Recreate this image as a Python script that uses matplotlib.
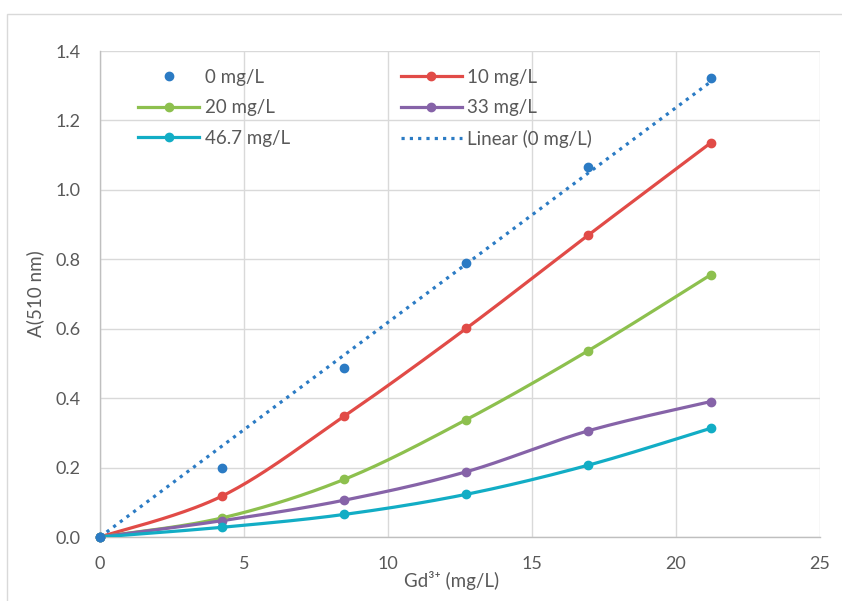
import numpy as np
import matplotlib
matplotlib.use("Agg")
import matplotlib.pyplot as plt
from matplotlib.patches import Rectangle

plt.rcParams['font.family'] = ['Lato', 'DejaVu Sans']

x = [0, 4.24, 8.48, 12.72, 16.96, 21.2]
y0 = [0.0, 0.199, 0.487, 0.790, 1.066, 1.323]
y10 = [0.0, 0.118, 0.348, 0.601, 0.870, 1.135]
y20 = [0.0, 0.055, 0.166, 0.338, 0.537, 0.755]
y33 = [0.0, 0.047, 0.106, 0.188, 0.306, 0.390]
y467 = [0.0, 0.028, 0.065, 0.123, 0.207, 0.313]
labels = ['0 mg/L', '10 mg/L', '20 mg/L', '33 mg/L', '46.7 mg/L', 'Linear (0 mg/L)']
colors = ['#2B7BC4', '#E14B47', '#8DC04E', '#8663A8', '#12ADC5']
xticks = [0, 5, 10, 15, 20, 25]
yticks = [0.0, 0.2, 0.4, 0.6, 0.8, 1.0, 1.2, 1.4]


def smooth(xs, ys, n=40):
    xs = np.asarray(xs, float); ys = np.asarray(ys, float)
    P = np.column_stack([xs, ys])
    out = [P[0]]
    for i in range(len(P) - 1):
        p0 = P[i - 1] if i > 0 else P[i]
        p1 = P[i]; p2 = P[i + 1]
        p3 = P[i + 2] if i + 2 < len(P) else P[i + 1]
        c1 = p1 + (p2 - p0) / 6.0
        c2 = p2 - (p3 - p1) / 6.0
        t = np.linspace(0, 1, n)[1:, None]
        seg = (1 - t) ** 3 * p1 + 3 * (1 - t) ** 2 * t * c1 + 3 * (1 - t) * t ** 2 * c2 + t ** 3 * p2
        out.extend(seg)
    out = np.array(out)
    return out[:, 0], out[:, 1]


fig = plt.figure(figsize=(8.42, 6.01), dpi=100)
fig.patches.append(Rectangle((7 / 842, -0.1), 2.0, 1 - 14 / 601 + 0.1, transform=fig.transFigure,
                             fill=False, edgecolor='#d9d9d9', linewidth=1.0))
ax = fig.add_axes([100 / 842, 1 - 537 / 601, 720 / 842, 486 / 601])

series = [y10, y20, y33, y467]
handles = {}
h0 = ax.plot(x, y0, 'o', color=colors[0], markersize=6, linestyle='none', zorder=5, clip_on=False)[0]
handles['0 mg/L'] = h0
for lab, ys, c in zip(labels[1:5], series, colors[1:5]):
    sx, sy = smooth(x, ys)
    ax.plot(sx, sy, '-', color=c, linewidth=2.3, zorder=3, solid_capstyle='round')
    ax.plot(x, ys, 'o', color=c, markersize=6, linestyle='none', zorder=4, clip_on=False)
    handles[lab] = ax.plot([], [], '-o', color=c, linewidth=2.3, markersize=6)[0]

xa = np.asarray(x); ya = np.asarray(y0)
slope = np.sum(xa * ya) / np.sum(xa * xa)
ax.plot([x[0], x[-1]], [slope * x[0], slope * x[-1]], linestyle=(0, (1, 1.6)), color=colors[0],
        linewidth=2.3, zorder=3)
handles['Linear (0 mg/L)'] = ax.plot([], [], linestyle=(0, (1, 1.6)), color=colors[0], linewidth=2.3)[0]

ax.set_xlim(0, 25)
ax.set_ylim(0, 1.4)
ax.set_xticks(xticks)
ax.set_yticks(yticks)
ax.set_yticklabels([f'{v:.1f}' for v in yticks])
ax.grid(True, color='#d9d9d9', linewidth=1.0)
ax.set_axisbelow(True)
for s in ['top', 'right']:
    ax.spines[s].set_visible(False)
for s in ['left', 'bottom']:
    ax.spines[s].set_color('#bfbfbf')
    ax.spines[s].set_linewidth(1.0)
ax.tick_params(length=0, labelsize=13, labelcolor='#595959')
ax.tick_params(axis='x', pad=14)
ax.tick_params(axis='y', pad=14)
ax.set_xlabel('Gd³⁺ (mg/L)', fontsize=13.5, color='#595959')
ax.set_ylabel('A(510 nm)', fontsize=13.5, color='#595959')
ax.xaxis.set_label_coords(0.488, -0.07)
ax.yaxis.set_label_coords(-0.078, 0.5)

order = ['0 mg/L', '20 mg/L', '46.7 mg/L', '10 mg/L', '33 mg/L', 'Linear (0 mg/L)']
leg = ax.legend([handles[k] for k in order], order, ncol=2, loc='upper left',
                bbox_to_anchor=(0.03, 0.998), frameon=False, fontsize=13.5, labelcolor='#595959',
                handlelength=3.25, columnspacing=5.9, labelspacing=0.72, handletextpad=0.3)

fig.savefig('out.png', dpi=100, facecolor='white')
